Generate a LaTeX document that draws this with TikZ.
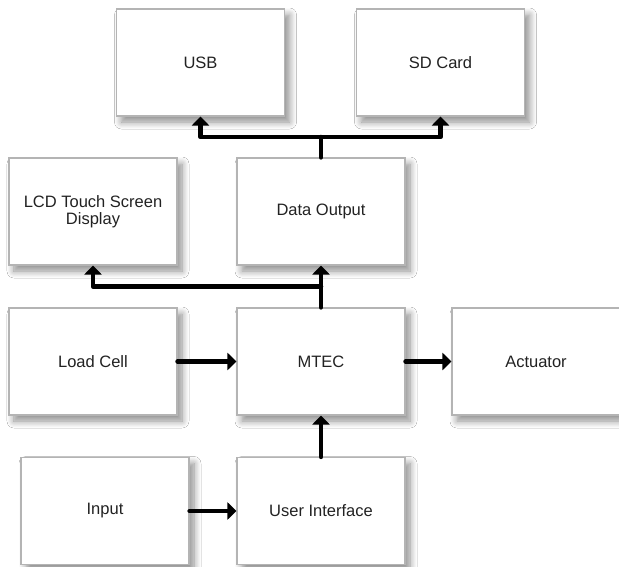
\documentclass[tikz,border=0pt]{standalone}
\usepackage{fontspec}
\setmainfont{Liberation Sans}
\usetikzlibrary{arrows.meta,shadows.blur,calc}
\definecolor{boxline}{HTML}{B4B4B4}
\definecolor{txt}{HTML}{222222}
\tikzset{
  blk/.style={draw=boxline, line width=1.1pt, fill=white, rectangle,
    minimum width=168pt, minimum height=107pt, inner sep=0pt,
    align=center, text=txt, font=\fontsize{16.5}{17}\selectfont,
    blur shadow={shadow xshift=5pt, shadow yshift=-6pt, shadow blur radius=7pt, shadow blur steps=8, shadow opacity=45}},
  arr/.style={draw=black, line width=4.5pt, line cap=round, line join=round,
    -{Triangle[width=17pt,length=9pt]}},
  seg/.style={draw=black, line width=4.5pt, line cap=round, line join=round}
}
\begin{document}
\begin{tikzpicture}[x=1pt,y=-1pt]
\useasboundingbox[fill=white] (0,0) rectangle (619,567);
\node[blk] (usb)  at (200.5,62.5) {USB};
\node[blk] (sd)   at (440.5,62.5) {SD Card};
\node[blk] (lcd)  at (93,211.5) {LCD Touch Screen\\Display};
\node[blk] (dout) at (321,211.5) {Data Output};
\node[blk] (load) at (93,361.5) {Load Cell};
\node[blk] (mtec) at (321,361.5) {MTEC};
\node[blk] (act)  at (536,361.5) {Actuator};
\node[blk] (inp)  at (105,511) {Input};
\node[blk] (ui)   at (321,511) {User Interface};
\coordinate (j1) at ($(mtec.north)!0.5!(dout.south)$);
\coordinate (j2) at ($(dout.north)!0.5!(usb.south -| dout.north)$);
\draw[arr] (mtec.north) -- (dout.south);
\draw[arr] (j1) -| (lcd.south);
\draw[seg] (dout.north) -- (j2);
\draw[arr] (j2) -| (usb.south);
\draw[arr] (j2) -| (sd.south);
\draw[arr] (load.east) -- (mtec.west);
\draw[arr] (mtec.east) -- (act.west);
\draw[arr] (inp.east) -- (ui.west);
\draw[arr] (ui.north) -- (mtec.south);
\end{tikzpicture}
\end{document}
